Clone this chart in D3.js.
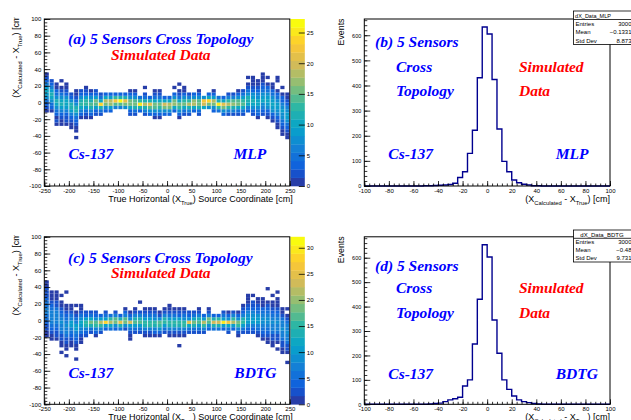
<!DOCTYPE html>
<html>
<head>
<meta charset="utf-8">
<script src="https://cdn.jsdelivr.net/npm/d3@7"></script>
<style>
  html, body { margin: 0; padding: 0; background: #fff; }
  svg { display: block; }
  text { font-family: "Liberation Sans", Arial, Helvetica, sans-serif; }
  .ann { font-family: "Liberation Serif", "Times New Roman", serif; font-weight: bold; font-style: italic; font-size: 15.5px; }
</style>
</head>
<body>
<svg id="chart" width="631" height="420"></svg>
<script>
// ---- data ----
// 2D histograms: x bins (-250..250, 50 bins), y bins (-100..100, 50 bins)
const heatX = [-250, 250, 50];
const heatY = [-100, 100, 50];

// for each x bin: lowest filled y edge, then counts upwards in 4 cm steps
const mlpLow = [-12, -12, -28, -28, -28, -32, -44, -20, -20, -20,
  -16, -16, -12, -12, -8, -8, -8, -16, -16, -12,
  -16, -16, -20, -20, -16, -16, -12, -20, -16, -16,
  -12, -16, -8, -8, -12, -12, -16, -16, -16, -16,
  -16, -12, -16, -20, -16, -20, -24, -32, -40, -44];
const mlpCounts = [
  [1, 2, 3, 5, 7, 9, 10, 9, 6, 4, 2, 1],
  [1, 3, 5, 8, 10, 11, 9, 6, 4, 2],
  [1, 2, 1, 3, 5, 8, 10, 11, 8, 5, 3, 1, 1],
  [1, 1, 2, 3, 6, 9, 11, 10, 7, 5, 2, 1, 0, 1],
  [1, 2, 2, 4, 6, 9, 10, 10, 7, 4, 2, 1, 1],
  [1, 1, 2, 3, 6, 9, 12, 11, 8, 4, 2],
  [1, 0, 1, 1, 2, 3, 5, 8, 11, 11, 8, 5, 2, 1, 1],
  [1, 3, 6, 10, 13, 12, 8, 4, 2],
  [1, 2, 5, 9, 13, 13, 9, 4, 2, 1],
  [1, 3, 6, 11, 14, 12, 7, 4, 1],
  [2, 4, 9, 14, 15, 9, 4, 2],
  [2, 5, 11, 24, 10, 5, 2],
  [3, 8, 16, 19, 10, 3],
  [3, 9, 17, 18, 9, 3],
  [6, 14, 22, 13, 4],
  [6, 14, 26, 11, 3],
  [8, 16, 21, 11, 3],
  [2, 4, 10, 16, 15, 8, 3, 1],
  [2, 5, 11, 16, 14, 7, 3, 1],
  [4, 12, 25, 13, 5],
  [2, 6, 12, 19, 12, 5, 2, 0, 1],
  [3, 7, 14, 21, 11, 4],
  [1, 3, 8, 14, 16, 10, 5, 2, 1],
  [1, 4, 8, 13, 16, 10, 5, 2, 1],
  [3, 8, 15, 20, 10, 4],
  [3, 8, 16, 19, 10, 4],
  [4, 10, 17, 16, 8, 3, 0, 1],
  [1, 3, 8, 13, 15, 10, 5, 2, 1, 0, 1],
  [2, 5, 10, 16, 13, 8, 3, 1, 1],
  [2, 6, 12, 18, 13, 6, 2],
  [4, 10, 18, 17, 8, 3],
  [2, 5, 11, 16, 14, 7, 3, 1],
  [10, 20, 22, 8],
  [7, 16, 24, 10, 3],
  [3, 8, 16, 19, 9, 3, 1],
  [5, 13, 25, 12, 5],
  [3, 8, 15, 21, 10, 3],
  [2, 6, 13, 18, 13, 6, 2],
  [2, 6, 12, 17, 14, 6, 2],
  [2, 5, 10, 15, 14, 8, 4, 1],
  [2, 5, 10, 14, 13, 9, 5, 2],
  [3, 6, 10, 12, 11, 8, 5, 2, 1, 0, 1],
  [2, 4, 7, 10, 11, 9, 7, 4, 2, 1, 1, 1],
  [1, 3, 5, 8, 10, 10, 8, 6, 4, 2, 1, 1],
  [2, 3, 6, 8, 10, 9, 8, 5, 3, 2, 1, 1, 1],
  [1, 2, 4, 7, 9, 10, 9, 7, 5, 3, 1, 0, 1],
  [1, 2, 4, 7, 9, 10, 9, 7, 5, 3, 1, 1],
  [1, 1, 2, 4, 6, 8, 9, 9, 8, 5, 3, 1, 0, 0, 1, 1],
  [1, 1, 2, 3, 5, 7, 8, 9, 8, 6, 4, 3, 1, 0, 1],
  [1, 1, 2, 3, 5, 7, 9, 9, 8, 6, 4, 2, 1, 1]
];

const bdtgLow = [-20, -24, -24, -40, -44, -32, -48, -28, -20, -16,
  -20, -16, -12, -12, -12, -12, -12, -24, -16, -16,
  -20, -20, -20, -20, -16, -20, -20, -32, -20, -16,
  -16, -16, -16, -12, -12, -12, -12, -16, -12, -20,
  -16, -16, -16, -20, -24, -28, -32, -36, -40, -52];
const bdtgCounts = [
  [1, 1, 2, 3, 4, 5, 6, 7, 7, 6, 5, 4, 3, 2, 2, 1, 1],
  [1, 1, 2, 4, 6, 7, 8, 8, 7, 6, 4, 3, 1, 1, 1],
  [1, 2, 3, 4, 6, 8, 8, 8, 7, 5, 3, 2, 1, 1, 1],
  [1, 0, 1, 1, 2, 3, 5, 7, 8, 9, 8, 6, 4, 2, 1, 1, 0, 1],
  [1, 0, 1, 1, 2, 3, 5, 7, 8, 9, 8, 6, 4, 2, 1, 1, 0, 0, 0, 1],
  [1, 1, 3, 4, 6, 8, 10, 10, 8, 5, 2, 1, 1],
  [1, 0, 0, 1, 1, 2, 4, 6, 8, 10, 10, 8, 5, 2, 1, 0, 1],
  [1, 1, 3, 5, 8, 11, 12, 9, 5, 3, 1, 1],
  [2, 4, 8, 14, 16, 10, 4, 2],
  [3, 6, 13, 18, 12, 6, 2],
  [1, 4, 8, 15, 17, 9, 4, 2],
  [3, 7, 15, 21, 10, 4],
  [4, 10, 28, 11, 5, 2],
  [5, 12, 22, 16, 5],
  [4, 9, 19, 17, 8, 3],
  [5, 13, 25, 13, 4],
  [3, 9, 18, 17, 8, 4, 1],
  [1, 1, 3, 6, 11, 24, 9, 4, 1],
  [2, 5, 10, 17, 14, 8, 3, 1],
  [2, 5, 11, 17, 14, 7, 3, 0, 0, 1],
  [1, 3, 8, 14, 16, 10, 5, 2, 1],
  [1, 3, 8, 15, 15, 10, 5, 2, 1],
  [1, 4, 8, 14, 16, 9, 5, 2, 1],
  [1, 4, 9, 16, 17, 9, 3, 1],
  [2, 5, 11, 16, 14, 8, 3, 1],
  [1, 3, 8, 14, 15, 10, 5, 2, 1, 1],
  [1, 3, 8, 14, 16, 10, 5, 2, 1],
  [1, 0, 0, 1, 3, 8, 14, 16, 10, 4, 2, 1],
  [1, 3, 8, 15, 16, 9, 5, 2, 1],
  [2, 6, 12, 25, 9, 4, 2],
  [2, 6, 13, 19, 12, 6, 2],
  [2, 5, 11, 17, 14, 7, 3, 1],
  [2, 7, 15, 22, 10, 4],
  [4, 9, 17, 18, 8, 3, 1],
  [5, 13, 24, 14, 4],
  [5, 13, 23, 15, 4],
  [4, 10, 29, 10, 5, 2],
  [2, 6, 12, 26, 9, 4, 1],
  [4, 10, 21, 15, 7, 3],
  [1, 3, 8, 16, 18, 9, 4, 1],
  [2, 5, 10, 15, 13, 8, 4, 2, 1],
  [2, 4, 7, 10, 11, 9, 7, 4, 3, 1, 1, 1],
  [2, 4, 7, 10, 11, 9, 7, 4, 3, 2, 0, 1],
  [1, 3, 5, 8, 10, 10, 9, 6, 4, 2, 1, 1],
  [1, 2, 4, 6, 8, 9, 9, 8, 6, 4, 1, 1, 1],
  [1, 1, 2, 4, 6, 8, 9, 9, 7, 5, 4, 2, 1, 0, 0, 0, 1],
  [1, 1, 2, 3, 5, 7, 8, 9, 8, 6, 4, 3, 1, 1, 0, 1],
  [1, 0, 1, 2, 3, 5, 7, 8, 9, 8, 6, 4, 2, 1, 1, 1, 0, 1],
  [1, 1, 2, 3, 5, 7, 8, 9, 8, 7, 5, 2, 1, 1],
  [1, 0, 0, 1, 2, 3, 5, 7, 8, 9, 8, 7, 5, 2, 1, 0, 1]
];

const zRangeMLP = [0, 27.2];
const zRangeBDTG = [0, 32.1];
const zTicksMLP = [0, 5, 10, 15, 20, 25];
const zTicksBDTG = [0, 5, 10, 15, 20, 25, 30];

// 1D residual histograms: -100..100 cm, 50 bins of 4 cm
const dxBins = [-100, 100, 50];
const dxMLP = [0, 0, 0, 0, 0, 0, 0, 0, 0, 0, 0, 0,
  1, 1, 2, 3, 4, 6, 11, 34, 57, 130, 222, 431, 633,
  605, 424, 227, 98, 57, 24, 13, 7, 4, 1, 1,
  0, 0, 0, 0, 0, 0, 0, 0, 0, 0, 0, 0, 0, 0];
const dxBDTG = [0, 0, 0, 0, 0, 0, 0, 0, 0, 0, 0, 0, 0,
  1, 3, 5, 11, 18, 23, 29, 75, 100, 247, 430, 653,
  603, 345, 209, 100, 61, 34, 18, 11, 7, 3, 1,
  0, 0, 0, 0, 0, 0, 0, 0, 0, 0, 0, 0, 0, 0];

const statNames = ["Entries", "Mean", "Std Dev"];
const statsMLP = ["3000", "\u22120.1331", "8.873"];
const statsBDTG = ["3000", "\u22120.48", "9.731"];

// axis titles: [text, isSubscript]
const heatXTitle = [["True Horizontal (X", 0], ["True", 1], [") Source Coordinate [cm]", 0]];
const residTitle = [["(X", 0], ["Calculated", 1], [" - X", 0], ["True", 1], [") [cm]", 0]];

// ---- palette (ROOT kBird, 20 contour levels) ----
const birdStops = [0, 0.125, 0.25, 0.375, 0.5, 0.625, 0.75, 0.875, 1];
const birdRGB = [[0.2082, 0.1664, 0.5293], [0.0592, 0.3599, 0.8684], [0.0780, 0.5041, 0.8385],
  [0.0232, 0.6419, 0.7914], [0.1802, 0.7178, 0.6425], [0.5301, 0.7492, 0.4662],
  [0.8186, 0.7328, 0.3499], [0.9956, 0.7862, 0.1968], [0.9764, 0.9832, 0.0539]];
const bird = d3.scaleLinear().domain(birdStops)
  .range(birdRGB.map(c => d3.rgb(c[0] * 255, c[1] * 255, c[2] * 255)))
  .interpolate(d3.interpolateRgb).clamp(true);
const nLevels = 20;
const levelColor = i => bird(Math.floor((i + 0.99) * 255 / nLevels) / 254);

const svg = d3.select("#chart");

function styleAxis(g, fs) {
  g.select(".domain").remove();
  g.selectAll("line").attr("stroke", "#000").attr("stroke-width", 0.8);
  g.selectAll("text").attr("font-size", fs).attr("fill", "#000")
    .attr("font-family", "Liberation Sans, Arial, sans-serif");
}

function subText(g, parts, fs, sub) {
  parts.forEach((p, i) => {
    const t = g.append("tspan").text(p[0]);
    if (p[1]) t.attr("font-size", sub).attr("dy", 3);
    else { t.attr("font-size", fs); if (i > 0) t.attr("dy", -3); }
  });
}

function frameAxes(g, x, y, o) {
  g.append("rect").attr("x", o.left).attr("y", o.top)
    .attr("width", o.right - o.left).attr("height", o.bottom - o.top)
    .attr("fill", "none").attr("stroke", "#000").attr("stroke-width", 1);
  g.append("g").attr("transform", `translate(0,${o.bottom})`)
    .call(d3.axisBottom(x).tickValues(o.xMinor).tickSize(-2.5).tickFormat(""))
    .call(a => styleAxis(a, 6));
  g.append("g").attr("transform", `translate(0,${o.bottom})`)
    .call(d3.axisBottom(x).tickValues(o.xMajor).tickSize(-5).tickPadding(2.3).tickFormat(d => String(d)))
    .call(a => styleAxis(a, 6));
  g.append("g").attr("transform", `translate(${o.left},0)`)
    .call(d3.axisLeft(y).tickValues(o.yMinor).tickSize(-3).tickFormat(""))
    .call(a => styleAxis(a, 6));
  g.append("g").attr("transform", `translate(${o.left},0)`)
    .call(d3.axisLeft(y).tickValues(o.yMajor).tickSize(-6).tickPadding(3).tickFormat(d => String(d)))
    .call(a => styleAxis(a, o.yFont || 6));
}

function drawHeat(o) {
  const g = svg.append("g");
  const x = d3.scaleLinear().domain([heatX[0], heatX[1]]).range([o.left, o.right]);
  const y = d3.scaleLinear().domain([heatY[0], heatY[1]]).range([o.bottom, o.top]);
  const z = d3.scaleLinear().domain(o.zRange).range([o.bottom, o.top]);
  const dx = (heatX[1] - heatX[0]) / heatX[2], dy = (heatY[1] - heatY[0]) / heatY[2];
  const cells = [];
  o.low.forEach((lo, i) => o.counts[i].forEach((c, j) => {
    if (c > 0) cells.push({ x0: heatX[0] + i * dx, y0: lo + j * dy, c });
  }));
  const level = c => Math.min(nLevels - 1, Math.floor(0.01 + c / o.zRange[1] * nLevels));

  g.selectAll("rect.cell").data(cells).join("rect").attr("class", "cell")
    .attr("x", d => x(d.x0) + 0.4)
    .attr("width", d => x(d.x0 + dx) - x(d.x0) - 0.8)
    .attr("y", d => y(d.y0 + dy))
    .attr("height", d => y(d.y0) - y(d.y0 + dy))
    .attr("fill", d => levelColor(level(d.c)));

  // colour bar
  const step = (o.zRange[1] - o.zRange[0]) / nLevels;
  g.selectAll("rect.band").data(d3.range(nLevels)).join("rect").attr("class", "band")
    .attr("x", o.right + 0.6).attr("width", 14.4)
    .attr("y", i => z((i + 1) * step)).attr("height", i => z(i * step) - z((i + 1) * step) + 0.3)
    .attr("fill", levelColor);
  g.append("g").attr("transform", `translate(${o.right + 15},0)`)
    .call(d3.axisRight(z).tickValues(o.zTicks).tickSize(-6).tickPadding(2).tickFormat(d => String(d)))
    .call(a => styleAxis(a, 6));

  frameAxes(g, x, y, {
    left: o.left, right: o.right, top: o.top, bottom: o.bottom,
    xMajor: d3.range(-250, 251, 50), xMinor: d3.range(-250, 251, 10),
    yMajor: d3.range(-100, 101, 20), yMinor: d3.range(-100, 101, 4)
  });

  // axis titles
  const xt = g.append("text").attr("x", o.right + 3).attr("y", o.bottom + 16).attr("text-anchor", "end");
  subText(xt, heatXTitle, 9, 5.8);
  const clipId = "clip" + o.id;
  svg.append("clipPath").attr("id", clipId).append("rect")
    .attr("x", 0).attr("y", o.top - 1.5).attr("width", 40).attr("height", 200);
  const yt = g.append("g").attr("clip-path", `url(#${clipId})`)
    .append("text").attr("transform", `translate(18.5,${o.top - 6}) rotate(-90)`).attr("text-anchor", "end");
  subText(yt, residTitle, 9, 5.8);
}

function drawHist(o) {
  const g = svg.append("g");
  const bw = (dxBins[1] - dxBins[0]) / dxBins[2];
  const x = d3.scaleLinear().domain([dxBins[0], dxBins[1]]).range([o.left, o.right]);
  const y = d3.scaleLinear().domain([0, d3.max(o.counts) * 1.05]).range([o.bottom, o.top]);
  const pts = o.counts.map((c, i) => [dxBins[0] + i * bw, c]);
  pts.push([dxBins[1], o.counts[o.counts.length - 1]]);
  const line = d3.line().x(d => x(d[0])).y(d => y(d[1])).curve(d3.curveStepAfter);
  g.append("path").datum(pts).attr("d", line)
    .attr("fill", "none").attr("stroke", "#00008f").attr("stroke-width", 1.4);

  frameAxes(g, x, y, {
    left: o.left, right: o.right, top: o.top, bottom: o.bottom,
    xMajor: d3.range(-100, 101, 20), xMinor: d3.range(-100, 101, 4),
    yMajor: d3.range(0, 601, 100), yMinor: d3.range(0, y.domain()[1], 20), yFont: 5.5
  });

  const xt = g.append("text").attr("x", o.right).attr("y", o.bottom + 16).attr("text-anchor", "end");
  subText(xt, residTitle, 9, 5.8);
  g.append("text").attr("transform", `translate(344,${o.top - 0.5}) rotate(-90)`)
    .attr("text-anchor", "end").attr("font-size", 8.8).text("Events");

  // stats box
  const sb = g.append("g");
  sb.append("rect").attr("x", o.boxX).attr("y", o.boxTop).attr("width", 80).attr("height", o.boxBottom - o.boxTop)
    .attr("fill", "#fff").attr("stroke", "#000").attr("stroke-width", 0.8);
  sb.append("line").attr("x1", o.boxX).attr("x2", 640).attr("y1", o.boxHead).attr("y2", o.boxHead)
    .attr("stroke", "#000").attr("stroke-width", 0.8);
  sb.append("text").attr("x", o.boxTitleX).attr("y", o.boxHead - 1.6).attr("text-anchor", "middle")
    .attr("font-size", o.boxTitleFont).text(o.title);
  const rowH = (o.boxBottom - o.boxHead) / statNames.length;
  statNames.forEach((n, i) => {
    const yy = o.boxHead + rowH * (i + 1) - 2;
    sb.append("text").attr("x", o.boxX + 2).attr("y", yy).attr("font-size", 6).text(n);
    sb.append("text").attr("x", 631.5).attr("y", yy).attr("text-anchor", "end").attr("font-size", 6).text(o.stats[i]);
  });
}

function annotate(items) {
  items.forEach(a => svg.append("text").attr("class", "ann").attr("x", a[1]).attr("y", a[2])
    .attr("fill", a[3]).text(a[0]));
}

drawHeat({ id: "a", left: 44.3, right: 289.8, top: 19, bottom: 186, low: mlpLow, counts: mlpCounts, zRange: zRangeMLP, zTicks: zTicksMLP });
drawHeat({ id: "c", left: 44.3, right: 289.8, top: 236.8, bottom: 404.3, low: bdtgLow, counts: bdtgCounts, zRange: zRangeBDTG, zTicks: zTicksBDTG });
drawHist({ left: 364.3, right: 610, top: 19, bottom: 186, counts: dxMLP, title: "dX_Data_MLP", stats: statsMLP,
  boxX: 573.5, boxTop: 11, boxHead: 19.5, boxBottom: 44.5, boxTitleX: 593, boxTitleFont: 5.5 });
drawHist({ left: 364.3, right: 610, top: 236.8, bottom: 404.3, counts: dxBDTG, title: "dX_Data_BDTG", stats: statsBDTG,
  boxX: 573.5, boxTop: 230, boxHead: 238.3, boxBottom: 262, boxTitleX: 602, boxTitleFont: 6 });

const blue = "#0000ff", red = "#ff0000";
annotate([
  ["(a) 5 Sensors Cross Topology", 68, 43.5, blue], ["Simulated Data", 111, 60, red],
  ["Cs-137", 68.5, 159, blue], ["MLP", 233.5, 159, blue],
  ["(c) 5 Sensors Cross Topology", 68, 262.7, blue], ["Simulated Data", 111, 278.3, red],
  ["Cs-137", 68.5, 378.3, blue], ["BDTG", 234.3, 378.3, blue],
  ["(b) 5 Sensors", 375, 46.7, blue], ["Cross", 396, 71.7, blue], ["Topology", 396, 96, blue],
  ["Simulated", 519, 71.7, red], ["Data", 519, 96, red],
  ["Cs-137", 388.3, 159, blue], ["MLP", 555.7, 159, blue],
  ["(d) 5 Sensors", 375, 271, blue], ["Cross", 396, 293.3, blue], ["Topology", 396, 317.7, blue],
  ["Simulated", 519, 293.3, red], ["Data", 519, 317.7, red],
  ["Cs-137", 388.3, 379, blue], ["BDTG", 555.7, 379, blue]
]);
</script>
</body>
</html>
